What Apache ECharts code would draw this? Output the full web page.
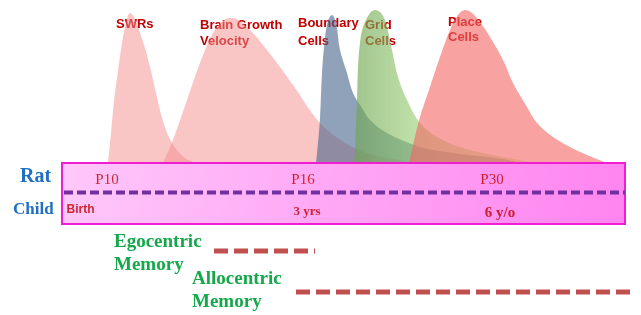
<!doctype html>
<html>
<head>
<meta charset="UTF-8">
<title>Rat / Child spatial memory timeline</title>
<script src="https://cdn.jsdelivr.net/npm/echarts@6/dist/echarts.min.js"></script>
</head>
<body style="margin:0">
<div id="chart" style="width:641px;height:315px;"></div>
<script>
// x = position on the developmental timeline, y = relative level of each curve
var swrs = [[108,0],[111,30],[114,62],[118,92],[122,120],[126,140],[130,150],[134,146],[139,133],[145,115],[150,96],[156,70],[162,45],[168,28],[176,14],[185,5],[195,0]];
var brainGrowth = [[163,0],[173,23],[187,63],[200,100],[213,130],[224,143],[232,145],[247,136],[267,113],[293,78],[320,40],[345,20],[370,9],[400,3],[420,0]];
var boundaryCells = [[316,0],[318,20],[320,45],[322,90],[325,125],[328,142],[332,148],[336,140],[340,113],[347,90],[353,70],[362,55],[370,43],[387,30],[420,16],[453,10],[503,4],[520,0]];
var gridCells = [[354,0],[355,10],[356,40],[357,63],[358,96],[360,120],[363,136],[370,150],[375,153],[380,151],[385,143],[392,113],[398,86],[407,63],[420,40],[437,26],[460,16],[493,8],[520,3],[535,0]];
var placeCells = [[409,0],[413,18],[420,46],[430,76],[440,106],[450,133],[458,148],[465,153],[472,150],[480,141],[490,126],[503,103],[513,80],[527,56],[537,40],[553,26],[570,16],[587,8],[607,0]];

var timelineSpan = [62, 625];
var ratTicks = ['P10', 'P16', 'P30'];
var ratTickAt = [107, 303, 492];
var childTicks = ['Birth', '3 yrs', '6 y/o'];
var childTickAt = [66, 307, 500];
var egocentric = [214, 315];
var allocentric = [296, 635];

var red = '#c00000';
var chart = echarts.init(document.getElementById('chart'));

function area(name, data, color) {
    return {
        name: name, type: 'line', xAxisIndex: 0, yAxisIndex: 0,
        data: data, smooth: 0.35, showSymbol: false,
        lineStyle: { width: 0 }, areaStyle: { color: color, opacity: 1 }
    };
}

function ticks(names, at, y, font) {
    return names.map(function (n, i) {
        return { value: [at[i], y], name: n, label: font };
    });
}

var boxFill = new echarts.graphic.LinearGradient(0, 0, 1, 1, [
    { offset: 0, color: '#ffc8fa' },
    { offset: 1, color: '#ff84f0' }
]);

var option = {
    animation: false,
    grid: [
        { left: 0, right: 0, top: 0, height: 163 },
        { left: 0, right: 0, top: 163, height: 152 }
    ],
    xAxis: [
        { type: 'value', gridIndex: 0, min: 0, max: 641, show: false },
        { type: 'value', gridIndex: 1, min: 0, max: 641, show: false }
    ],
    yAxis: [
        { type: 'value', gridIndex: 0, min: 0, max: 163, show: false },
        { type: 'value', gridIndex: 1, min: 0, max: 152, inverse: true, show: false }
    ],
    series: [
        area('SWRs', swrs, 'rgba(245,140,140,0.5)'),
        area('Brain Growth Velocity', brainGrowth, 'rgba(245,140,140,0.5)'),
        area('Boundary Cells', boundaryCells, 'rgba(70,100,140,0.6)'),
        area('Grid Cells', gridCells, {
            type: 'linear', x: 0, y: 0, x2: 1, y2: 0,
            colorStops: [
                { offset: 0, color: 'rgba(110,165,80,0.65)' },
                { offset: 0.35, color: 'rgba(150,205,110,0.6)' },
                { offset: 1, color: 'rgba(190,240,140,0.55)' }
            ]
        }),
        area('Place Cells', placeCells, 'rgba(243,100,100,0.6)'),
        {
            type: 'custom', xAxisIndex: 1, yAxisIndex: 1, z: 5,
            data: [[timelineSpan[0], timelineSpan[1], 0, 61]],
            encode: { x: [0, 1], y: [2, 3] },
            renderItem: function (params, api) {
                var p0 = api.coord([api.value(0), api.value(2)]);
                var p1 = api.coord([api.value(1), api.value(3)]);
                return {
                    type: 'rect',
                    shape: { x: p0[0], y: p0[1], width: p1[0] - p0[0], height: p1[1] - p0[1] },
                    style: { fill: boxFill, stroke: '#f01ed2', lineWidth: 2 }
                };
            }
        },
        {
            type: 'line', xAxisIndex: 1, yAxisIndex: 1, z: 6, showSymbol: false,
            data: [[timelineSpan[0] + 2, 29.5], [timelineSpan[1], 29.5]],
            lineStyle: { color: '#7030a0', width: 4, type: [9, 4] }
        },
        {
            type: 'line', xAxisIndex: 1, yAxisIndex: 1, showSymbol: false,
            data: [[egocentric[0], 88], [egocentric[1], 88]],
            lineStyle: { color: '#c0504d', width: 5, type: [14, 6] }
        },
        {
            type: 'line', xAxisIndex: 1, yAxisIndex: 1, showSymbol: false,
            data: [[allocentric[0], 129], [allocentric[1], 129]],
            lineStyle: { color: '#c0504d', width: 5, type: [14, 6] }
        },
        {
            type: 'scatter', xAxisIndex: 1, yAxisIndex: 1, z: 7,
            symbolSize: 1, itemStyle: { color: 'rgba(0,0,0,0)' },
            label: { show: true, position: 'inside', formatter: '{b}' },
            data: ticks(ratTicks, ratTickAt, 17,
                    { fontFamily: 'Liberation Serif', fontSize: 15, color: red })
                .concat([
                    { value: [childTickAt[0], 47], name: childTicks[0],
                      label: { position: 'right', distance: 0, fontFamily: 'Liberation Sans', fontWeight: 'bold', fontSize: 12, color: red } },
                    { value: [childTickAt[1], 49], name: childTicks[1],
                      label: { fontFamily: 'Liberation Serif', fontWeight: 'bold', fontSize: 13, color: red } },
                    { value: [childTickAt[2], 50], name: childTicks[2],
                      label: { fontFamily: 'Liberation Serif', fontWeight: 'bold', fontSize: 15, color: red } }
                ])
        }
    ],
    graphic: [
        { type: 'text', left: 20, top: 167, style: { text: 'Rat', font: 'bold 20px "Liberation Serif"', fill: '#1f70c1' } },
        { type: 'text', left: 13, top: 201, style: { text: 'Child', font: 'bold 17px "Liberation Serif"', fill: '#1f70c1' } },
        { type: 'text', left: 116, top: 18, style: { text: 'SWRs', font: 'bold 13px "Liberation Sans"', fill: red } },
        { type: 'text', left: 200, top: 17, style: { text: 'Brain Growth\nVelocity', font: 'bold 13px "Liberation Sans"', fill: red, lineHeight: 16 } },
        { type: 'text', left: 298, top: 14, style: { text: 'Boundary\nCells', font: 'bold 13px "Liberation Sans"', fill: red, lineHeight: 18 } },
        { type: 'text', left: 365, top: 17, style: { text: 'Grid\nCells', font: 'bold 13px "Liberation Sans"', fill: red, lineHeight: 16 } },
        { type: 'text', left: 448, top: 15, style: { text: 'Place\nCells', font: 'bold 13px "Liberation Sans"', fill: red, lineHeight: 15 } },
        { type: 'text', left: 114, top: 231, style: { text: 'Egocentric\nMemory', font: 'bold 19px "Liberation Serif"', fill: '#14a84a', lineHeight: 23 } },
        { type: 'text', left: 192, top: 268, style: { text: 'Allocentric\nMemory', font: 'bold 19px "Liberation Serif"', fill: '#14a84a', lineHeight: 23 } }
    ]
};

chart.setOption(option);
</script>
</body>
</html>
